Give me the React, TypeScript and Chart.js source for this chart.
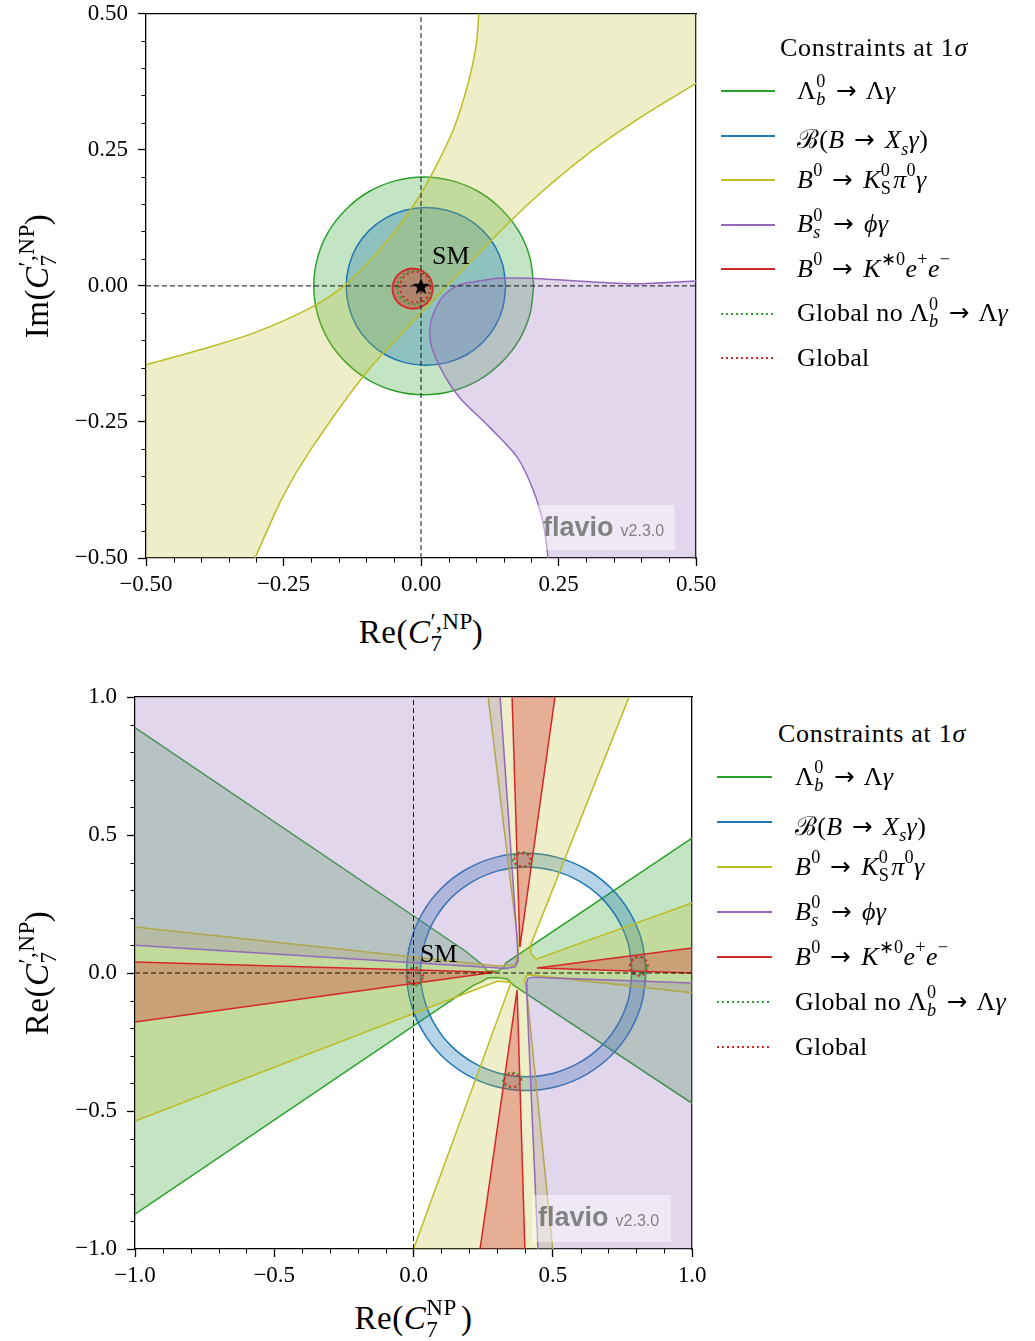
import React, { useEffect, useRef } from 'react';
import { Chart, registerables } from 'chart.js';

Chart.register(...registerables);

type P = [number, number];

// ---------------- ticks ----------------
const TOP_TICKS = [-0.5, -0.25, 0, 0.25, 0.5];
const TOP_TICK_LABELS = ['\u22120.50', '\u22120.25', '0.00', '0.25', '0.50'];
const TOP_MINOR_TICKS = [-0.45, -0.4, -0.35, -0.3, -0.2, -0.15, -0.1, -0.05, 0.05, 0.1, 0.15, 0.2, 0.3, 0.35, 0.4, 0.45];
const BOT_TICKS = [-1, -0.5, 0, 0.5, 1];
const BOT_TICK_LABELS = ['\u22121.0', '\u22120.5', '0.0', '0.5', '1.0'];
const BOT_MINOR_TICKS = [-0.9, -0.8, -0.7, -0.6, -0.4, -0.3, -0.2, -0.1, 0.1, 0.2, 0.3, 0.4, 0.6, 0.7, 0.8, 0.9];

// ---------------- top panel: Re(C7') vs Im(C7') ----------------
const TOP_LAMBDA_B: P[] = [
  [0.205, 0], [0.198, 0.052], [0.178, 0.1], [0.146, 0.141], [0.105, 0.173], [0.057, 0.193],
  [0.005, 0.2], [-0.047, 0.193], [-0.095, 0.173], [-0.136, 0.141], [-0.168, 0.1], [-0.188, 0.052],
  [-0.195, 0], [-0.188, -0.052], [-0.168, -0.1], [-0.136, -0.141], [-0.095, -0.173], [-0.047, -0.193],
  [0.005, -0.2], [0.057, -0.193], [0.105, -0.173], [0.146, -0.141], [0.178, -0.1], [0.198, -0.052], [0.205, 0],
];
const TOP_XS_GAMMA: P[] = [
  [0.154, -0.001], [0.149, 0.037], [0.135, 0.072], [0.112, 0.102], [0.082, 0.125], [0.047, 0.139],
  [0.009, 0.144], [-0.029, 0.139], [-0.064, 0.125], [-0.094, 0.102], [-0.117, 0.072], [-0.131, 0.037],
  [-0.136, -0.001], [-0.131, -0.039], [-0.117, -0.074], [-0.094, -0.104], [-0.064, -0.127], [-0.029, -0.141],
  [0.009, -0.146], [0.047, -0.141], [0.082, -0.127], [0.112, -0.104], [0.135, -0.074], [0.149, -0.039], [0.154, -0.001],
];
const TOP_KSPI_EDGE_A: P[] = [
  [-0.56, -0.163], [-0.5, -0.145], [-0.4, -0.117], [-0.3, -0.085], [-0.2, -0.04], [-0.14, 0.0],
  [-0.09, 0.05], [-0.04, 0.11], [0.0, 0.17], [0.03, 0.225], [0.06, 0.29], [0.085, 0.37], [0.1, 0.44],
  [0.105, 0.5], [0.107, 0.56],
];
const TOP_KSPI_EDGE_B: P[] = [
  [0.56, 0.56], [0.56, 0.41], [0.5, 0.372], [0.4, 0.31], [0.3, 0.24], [0.2, 0.155], [0.1, 0.055],
  [0.0, -0.05], [-0.1, -0.16], [-0.2, -0.3], [-0.25, -0.385], [-0.302, -0.5], [-0.33, -0.56], [-0.56, -0.56],
];
const TOP_PHI_GAMMA: P[] = [
  [0.56, 0.009], [0.5, 0.009], [0.4, 0.004], [0.3, 0.008], [0.2, 0.014], [0.14, 0.014], [0.095, 0.007],
  [0.07, 0.002], [0.045, -0.014], [0.03, -0.035], [0.018, -0.065], [0.016, -0.09], [0.02, -0.115],
  [0.04, -0.16], [0.07, -0.205], [0.125, -0.26], [0.175, -0.315], [0.204, -0.375], [0.222, -0.436],
  [0.231, -0.5], [0.234, -0.56], [0.56, -0.56],
];
const TOP_KEE: P[] = [
  [0.022, -0.005], [0.017, 0.0135], [0.0035, 0.027], [-0.015, 0.032], [-0.0335, 0.027], [-0.047, 0.0135],
  [-0.052, -0.005], [-0.047, -0.0235], [-0.0335, -0.037], [-0.015, -0.042], [0.0035, -0.037], [0.017, -0.0235], [0.022, -0.005],
];
const TOP_GLOBAL_NO_LB: P[] = [
  [0.019, -0.003], [0.01, 0.019], [-0.012, 0.028], [-0.034, 0.019], [-0.043, -0.003], [-0.034, -0.025],
  [-0.012, -0.034], [0.01, -0.025], [0.019, -0.003],
];
const TOP_GLOBAL: P[] = [
  [0.018, -0.002], [0.01, 0.018], [-0.01, 0.026], [-0.03, 0.018], [-0.038, -0.002], [-0.03, -0.022],
  [-0.01, -0.03], [0.01, -0.022], [0.018, -0.002],
];
const TOP_ZERO_H: P[] = [[-0.5, 0], [0.5, 0]];
const TOP_ZERO_V: P[] = [[0, -0.5], [0, 0.5]];
const TOP_SM_POINT: P[] = [[0, 0]];
const TOP_SM_LABEL: P = [0.02, 0.04];

// ---------------- bottom panel: Re(C7) vs Re(C7') ----------------
const BOT_LAMBDA_B: P[] = [
  [-1.1, 0.957], [-1, 0.889], [0.19, 0.077], [0.225, 0.048], [0.25, 0.028], [0.264, 0.008], [0.3, 0.006],
  [0.325, 0.02], [0.33, 0.035], [1, 0.489], [1.1, 0.557], [1.1, -0.539], [1, -0.472], [0.36, -0.045],
  [0.337, -0.022], [0.3, -0.016], [0.268, -0.018], [0.245, -0.031], [0.215, -0.045], [-1, -0.874], [-1.1, -0.942],
];
const BOT_XS_OUTER: P[] = [
  [0.835, 0.004], [0.82, 0.115], [0.777, 0.219], [0.709, 0.308], [0.62, 0.376], [0.516, 0.419],
  [0.405, 0.434], [0.294, 0.419], [0.19, 0.376], [0.101, 0.308], [0.033, 0.219], [-0.01, 0.115],
  [-0.025, 0.004], [-0.01, -0.107], [0.033, -0.211], [0.101, -0.3], [0.19, -0.368], [0.294, -0.411],
  [0.405, -0.426], [0.516, -0.411], [0.62, -0.368], [0.709, -0.3], [0.777, -0.211], [0.82, -0.107], [0.835, 0.004],
];
const BOT_XS_INNER: P[] = [
  [0.785, 0.004], [0.772, 0.102], [0.734, 0.194], [0.674, 0.273], [0.595, 0.333], [0.503, 0.371],
  [0.405, 0.384], [0.307, 0.371], [0.215, 0.333], [0.136, 0.273], [0.076, 0.194], [0.038, 0.102],
  [0.025, 0.004], [0.038, -0.094], [0.076, -0.186], [0.136, -0.265], [0.215, -0.325], [0.307, -0.363],
  [0.405, -0.376], [0.503, -0.363], [0.595, -0.325], [0.674, -0.265], [0.734, -0.186], [0.772, -0.094], [0.785, 0.004],
];
const BOT_KSPI: P[] = [
  [-1.1, 0.178], [-1, 0.167], [0.3, 0.025], [0.365, 0.03], [0.376, 0.07], [0.375, 0.109], [0.268, 1.0], [0.256, 1.1],
  [0.812, 1.1], [0.774, 1.0], [0.42, 0.1], [0.422, 0.07], [0.44, 0.05], [1, 0.254], [1.1, 0.29],
  [1.1, -0.083], [1, -0.072], [0.41, -0.006], [0.398, -0.025], [0.405, -0.05], [0.5, -1.0], [0.511, -1.1],
  [-0.036, -1.1], [0.0, -1.0], [0.35, -0.035], [0.33, -0.032], [0.3, -0.03], [-1, -0.536], [-1.1, -0.575],
];
const BOT_PHI_UPPER: P[] = [
  [-1.1, 1.1], [0.305, 1.1], [0.311, 1.0], [0.372, 0.12], [0.376, 0.045], [0.365, 0.022], [0.33, 0.016],
  [-1, 0.101], [-1.1, 0.108],
];
const BOT_PHI_LOWER: P[] = [
  [1.1, -0.04], [1, -0.036], [0.43, -0.015], [0.41, -0.02], [0.405, -0.04], [0.407, -0.08], [0.447, -1.0],
  [0.456, -1.1], [1.1, -1.1],
];
const BOT_KEE_LEFT: P[] = [[-1.1, 0.042], [-1, 0.04], [0.29, 0.003], [-1, -0.178], [-1.1, -0.192]];
const BOT_KEE_UP: P[] = [[0.351, 1.1], [0.354, 1.0], [0.382, 0.094], [0.508, 1.0], [0.522, 1.1]];
const BOT_KEE_RIGHT: P[] = [[1.1, 0.104], [1, 0.091], [0.443, 0.018], [1, 0.0], [1.1, -0.003]];
const BOT_KEE_DOWN: P[] = [[0.225, -1.1], [0.239, -1.0], [0.372, -0.062], [0.4, -1.0], [0.403, -1.1]];

const BOT_GLOBAL_NO_LB_SM: P[] = [[0.034, -0.013], [0.025, 0.01], [0.004, 0.02], [-0.017, 0.01], [-0.026, -0.013], [-0.017, -0.036], [0.004, -0.046], [0.025, -0.036], [0.034, -0.013]];
const BOT_GLOBAL_NO_LB_UP: P[] = [[0.425, 0.411], [0.415, 0.43], [0.391, 0.438], [0.367, 0.43], [0.357, 0.411], [0.367, 0.392], [0.391, 0.384], [0.415, 0.392], [0.425, 0.411]];
const BOT_GLOBAL_NO_LB_RIGHT: P[] = [[0.839, 0.025], [0.83, 0.048], [0.808, 0.058], [0.786, 0.048], [0.777, 0.025], [0.786, 0.002], [0.808, -0.008], [0.83, 0.002], [0.839, 0.025]];
const BOT_GLOBAL_NO_LB_DOWN: P[] = [[0.389, -0.388], [0.379, -0.369], [0.355, -0.361], [0.331, -0.369], [0.321, -0.388], [0.331, -0.407], [0.355, -0.415], [0.379, -0.407], [0.389, -0.388]];
const BOT_GLOBAL_SM: P[] = [[0.034, -0.012], [0.026, 0.01], [0.006, 0.019], [-0.014, 0.01], [-0.022, -0.012], [-0.014, -0.034], [0.006, -0.043], [0.026, -0.034], [0.034, -0.012]];
const BOT_GLOBAL_UP: P[] = [[0.422, 0.41], [0.413, 0.427], [0.392, 0.434], [0.371, 0.427], [0.362, 0.41], [0.371, 0.393], [0.392, 0.386], [0.413, 0.393], [0.422, 0.41]];
const BOT_GLOBAL_RIGHT: P[] = [[0.843, 0.024], [0.833, 0.048], [0.81, 0.058], [0.787, 0.048], [0.777, 0.024], [0.787, 0.0], [0.81, -0.01], [0.833, 0.0], [0.843, 0.024]];
const BOT_GLOBAL_DOWN: P[] = [[0.386, -0.389], [0.377, -0.372], [0.356, -0.365], [0.335, -0.372], [0.326, -0.389], [0.335, -0.406], [0.356, -0.413], [0.377, -0.406], [0.386, -0.389]];
const BOT_ZERO_H: P[] = [[-1, 0], [1, 0]];
const BOT_ZERO_V: P[] = [[0, -1], [0, 1]];
const BOT_SM_LABEL: P = [0.023, 0.04];

// ---------------- styles ----------------
const GREEN = '#2ca02c';
const BLUE = '#1f77b4';
const OLIVE = '#bcbd22';
const PURPLE = '#9467bd';
const RED = '#d62728';
const SERIF = "'Liberation Serif', 'Times New Roman', serif";
const SANS = "'Liberation Sans', Arial, sans-serif";

const hexA = (hex: string, a: number) => {
  const n = parseInt(hex.slice(1), 16);
  return `rgba(${(n >> 16) & 255},${(n >> 8) & 255},${n & 255},${a})`;
};
const xy = (a: P[]) => a.map(([x, y]) => ({ x, y }));

function region(data: P[], color: string, a: number, order: number, tension: number, borderWidth = 1.5): any {
  return {
    data: xy(data), borderColor: borderWidth ? color : 'transparent', backgroundColor: hexA(color, a),
    borderWidth, fill: 'shape', tension, order, pointRadius: 0, pointHoverRadius: 0,
  };
}
function outline(data: P[], color: string, order: number, tension: number, dash: number[] = [], width = 1.5): any {
  return {
    data: xy(data), borderColor: color, backgroundColor: 'transparent', borderWidth: width, fill: false,
    tension, order, pointRadius: 0, pointHoverRadius: 0, borderDash: dash,
  };
}

const minorTicksPlugin = {
  id: 'minorTicks',
  afterDraw(chart: any, _a: any, opts: any) {
    const { ctx, chartArea } = chart;
    const xs = chart.scales.x;
    const ys = chart.scales.y;
    ctx.save();
    ctx.strokeStyle = '#000';
    ctx.lineWidth = 1;
    ctx.beginPath();
    for (const v of opts.values || []) {
      const px = Math.round(xs.getPixelForValue(v)) + 0.5;
      ctx.moveTo(px, chartArea.bottom);
      ctx.lineTo(px, chartArea.bottom + opts.len);
      const py = Math.round(ys.getPixelForValue(v)) + 0.5;
      ctx.moveTo(chartArea.left, py);
      ctx.lineTo(chartArea.left - opts.len, py);
    }
    ctx.stroke();
    ctx.restore();
  },
};

const smLabelPlugin = {
  id: 'smLabel',
  afterDatasetsDraw(chart: any, _a: any, opts: any) {
    if (!opts || !opts.text) return;
    const { ctx } = chart;
    ctx.save();
    ctx.font = `26px ${SERIF}`;
    ctx.fillStyle = '#000';
    ctx.textAlign = 'left';
    ctx.textBaseline = 'alphabetic';
    ctx.fillText(opts.text, chart.scales.x.getPixelForValue(opts.x), chart.scales.y.getPixelForValue(opts.y));
    ctx.restore();
  },
};

function scalesFor(ticks: number[], labels: string[], min: number, max: number, yWidth: number, xHeight: number) {
  const font = { family: SERIF, size: 23 };
  const grid = { display: true, drawOnChartArea: false, drawTicks: true, tickLength: 8, tickWidth: 1.3, tickColor: '#000' };
  const border = { display: true, color: '#000', width: 1.3 };
  return {
    x: {
      type: 'linear', position: 'bottom', min, max,
      afterBuildTicks: (s: any) => { s.ticks = ticks.map((v) => ({ value: v })); },
      afterFit: (s: any) => { s.height = xHeight; },
      ticks: { font, color: '#000', padding: 5, maxRotation: 0, minRotation: 0, autoSkip: false, callback: (_v: any, i: number) => labels[i] },
      grid, border,
    },
    y: {
      type: 'linear', position: 'left', min, max,
      afterBuildTicks: (s: any) => { s.ticks = ticks.map((v) => ({ value: v })); },
      afterFit: (s: any) => { s.width = yWidth; },
      ticks: { font, color: '#000', padding: 10, autoSkip: false, callback: (_v: any, i: number) => labels[i] },
      grid, border,
    },
    x2: {
      type: 'linear', position: 'top', min, max,
      afterFit: (s: any) => { s.height = 0; },
      ticks: { display: false },
      grid: { display: true, drawOnChartArea: false, drawTicks: false },
      border,
    },
    y2: {
      type: 'linear', position: 'right', min, max,
      afterFit: (s: any) => { s.width = 0; },
      ticks: { display: false },
      grid: { display: true, drawOnChartArea: false, drawTicks: false },
      border,
    },
  };
}

function makeChart(canvas: HTMLCanvasElement, datasets: any[], o: any) {
  return new Chart(canvas as any, {
    type: 'line',
    data: { datasets },
    options: {
      responsive: false,
      animation: false,
      devicePixelRatio: 1,
      events: [],
      layout: { padding: o.padding },
      elements: { line: { capBezierPoints: false }, point: { radius: 0 } },
      plugins: {
        legend: { display: false },
        tooltip: { enabled: false },
        minorTicks: { values: o.minor, len: 4.5 },
        smLabel: { x: o.sm[0], y: o.sm[1], text: 'SM' },
      } as any,
      scales: scalesFor(o.ticks, o.labels, o.min, o.max, o.yWidth, o.xHeight) as any,
    },
    plugins: [minorTicksPlugin, smLabelPlugin],
  } as any);
}

function makeStar(size: number) {
  const c = document.createElement('canvas');
  c.width = size;
  c.height = size;
  const g = c.getContext('2d')!;
  g.fillStyle = '#000';
  g.beginPath();
  for (let i = 0; i < 10; i++) {
    const r = i % 2 === 0 ? size / 2 : size / 4.8;
    const a = -Math.PI / 2 + (i * Math.PI) / 5;
    const x = size / 2 + r * Math.cos(a);
    const y = size / 2 + r * Math.sin(a) + size * 0.05;
    if (i === 0) g.moveTo(x, y);
    else g.lineTo(x, y);
  }
  g.closePath();
  g.fill();
  return c;
}

// ---------------- math text helpers ----------------
function Sup({ children }: { children: React.ReactNode }) {
  return <span style={{ fontSize: '0.7em', position: 'relative', top: '-0.62em' }}>{children}</span>;
}
function Sub({ children }: { children: React.ReactNode }) {
  return <span style={{ fontSize: '0.7em', position: 'relative', top: '0.36em' }}>{children}</span>;
}
function SS({ sup, sub, w }: { sup: React.ReactNode; sub: React.ReactNode; w: string }) {
  return (
    <span style={{ position: 'relative', display: 'inline-block', width: w, height: 0 }}>
      <span style={{ position: 'absolute', left: 0, bottom: '0.44em', fontSize: '0.7em', lineHeight: 1, whiteSpace: 'nowrap' }}>{sup}</span>
      <span style={{ position: 'absolute', left: 0, bottom: '-0.52em', fontSize: '0.7em', lineHeight: 1, whiteSpace: 'nowrap' }}>{sub}</span>
    </span>
  );
}
function Arrow() {
  return <span style={{ fontFamily: "'DejaVu Sans', sans-serif", fontSize: '0.95em', margin: '0 0.12em' }}>{'\u2192'}</span>;
}

const LEGEND_COLORS = [GREEN, BLUE, OLIVE, PURPLE, RED, GREEN, RED];
const LEGEND_DOTTED = [false, false, false, false, false, true, true];

function legendLabels(): React.ReactNode[] {
  const lb = <>{'\u039b'}<SS sup="0" sub={<i>b</i>} w="0.4em" /></>;
  return [
    <>{lb} <Arrow /> {'\u039b'}<i>{'\u03b3'}</i></>,
    <>{'\u212c'}(<i>B</i> <Arrow /> <i>X</i><Sub><i>s</i></Sub><i>{'\u03b3'}</i>)</>,
    <><i>B</i><Sup>0</Sup> <Arrow /> <i>K</i><SS sup="0" sub="S" w="0.48em" /><i>{'\u03c0'}</i><Sup>0</Sup><i>{'\u03b3'}</i></>,
    <><i>B</i><SS sup="0" sub={<i>s</i>} w="0.4em" /> <Arrow /> <i>{'\u03d5\u03b3'}</i></>,
    <><i>B</i><Sup>0</Sup> <Arrow /> <i>K</i><Sup>{'\u22170'}</Sup><i>e</i><Sup>+</Sup><i>e</i><Sup>{'\u2212'}</Sup></>,
    <>Global no {lb} <Arrow /> {'\u039b'}<i>{'\u03b3'}</i></>,
    <>Global</>,
  ];
}

function Legend({ lineLeft, lineW, textLeft, firstY, step, titleX, titleBase }: any) {
  const labels = legendLabels();
  return (
    <>
      <div style={{ position: 'absolute', left: titleX - 150, width: 300, top: titleBase - 24.5, height: 31, lineHeight: '31px', textAlign: 'center', font: `26px ${SERIF}`, letterSpacing: '0.7px', whiteSpace: 'nowrap' }}>
        Constraints at 1<i>{'\u03c3'}</i>
      </div>
      {labels.map((lab, i) => {
        const y = firstY + i * step;
        const c = LEGEND_COLORS[i];
        const bg = LEGEND_DOTTED[i] ? `repeating-linear-gradient(to right, ${c} 0px, ${c} 2px, transparent 2px, transparent 5px)` : c;
        return (
          <React.Fragment key={i}>
            <div style={{ position: 'absolute', left: lineLeft, top: y - 1, width: lineW, height: 2, background: bg }} />
            <div style={{ position: 'absolute', left: textLeft, top: y - 15.5, height: 31, lineHeight: '31px', font: `26px ${SERIF}`, letterSpacing: '0.3px', whiteSpace: 'nowrap' }}>{lab}</div>
          </React.Fragment>
        );
      })}
    </>
  );
}

function Watermark({ left, top, w, h }: any) {
  return (
    <>
      <div style={{ position: 'absolute', left, top, width: w, height: h, background: 'rgba(255,255,255,0.45)' }} />
      <div style={{ position: 'absolute', left: left + 6, top: top + 7, height: 30, lineHeight: '30px', whiteSpace: 'nowrap', color: 'rgba(110,110,110,0.85)' }}>
        <span style={{ font: `bold 27px ${SANS}` }}>flavio</span>
        <span style={{ font: `16px ${SANS}`, marginLeft: 7 }}>v2.3.0</span>
      </div>
    </>
  );
}

export default function App() {
  const topRef = useRef<HTMLCanvasElement>(null);
  const botRef = useRef<HTMLCanvasElement>(null);

  useEffect(() => {
    const star = makeStar(18);
    const dot = [2, 3.2];
    const dash = [5, 3];

    const topSets = [
      region(TOP_LAMBDA_B, GREEN, 0.28, 9, 0.33),
      region(TOP_XS_GAMMA, BLUE, 0.32, 8, 0.33),
      region([...TOP_KSPI_EDGE_A, ...TOP_KSPI_EDGE_B], OLIVE, 0.25, 7, 0.3),
      region(TOP_PHI_GAMMA, PURPLE, 0.27, 6, 0.3),
      region(TOP_KEE, RED, 0.38, 5, 0.35, 1.8),
      outline(TOP_GLOBAL_NO_LB, GREEN, 4, 0.37, dot, 2),
      outline(TOP_GLOBAL, RED, 3, 0.37, dot, 2),
      outline(TOP_ZERO_H, '#111', 2, 0, dash, 1),
      outline(TOP_ZERO_V, '#111', 2, 0, dash, 1),
      { data: xy(TOP_SM_POINT), showLine: false, pointStyle: star, pointRadius: 8, borderColor: '#000', backgroundColor: '#000', order: 0 },
    ];

    const botSets = [
      region(BOT_LAMBDA_B, GREEN, 0.28, 20, 0),
      region([...BOT_XS_OUTER, ...[...BOT_XS_INNER].reverse()], BLUE, 0.32, 19, 0.33, 0),
      outline(BOT_XS_OUTER, BLUE, 18, 0.33),
      outline(BOT_XS_INNER, BLUE, 18, 0.33),
      region(BOT_KSPI, OLIVE, 0.25, 17, 0),
      region(BOT_PHI_UPPER, PURPLE, 0.27, 16, 0),
      region(BOT_PHI_LOWER, PURPLE, 0.27, 16, 0),
      region(BOT_KEE_LEFT, RED, 0.32, 15, 0),
      region(BOT_KEE_UP, RED, 0.32, 15, 0),
      region(BOT_KEE_RIGHT, RED, 0.32, 15, 0),
      region(BOT_KEE_DOWN, RED, 0.32, 15, 0),
      ...[BOT_GLOBAL_NO_LB_SM, BOT_GLOBAL_NO_LB_UP, BOT_GLOBAL_NO_LB_RIGHT, BOT_GLOBAL_NO_LB_DOWN].map((d) => outline(d, GREEN, 4, 0.37, dot, 2)),
      ...[BOT_GLOBAL_SM, BOT_GLOBAL_UP, BOT_GLOBAL_RIGHT, BOT_GLOBAL_DOWN].map((d) => outline(d, RED, 3, 0.37, dot, 2)),
      outline(BOT_ZERO_H, '#111', 2, 0, dash, 1),
      outline(BOT_ZERO_V, '#111', 2, 0, dash, 1),
    ];

    const c1 = makeChart(topRef.current!, topSets, {
      padding: { left: 0, top: 22, right: 34, bottom: 0 },
      ticks: TOP_TICKS, labels: TOP_TICK_LABELS, minor: TOP_MINOR_TICKS, min: -0.5, max: 0.5,
      yWidth: 146, xHeight: 47, sm: TOP_SM_LABEL,
    });
    const c2 = makeChart(botRef.current!, botSets, {
      padding: { left: 0, top: 37, right: 28, bottom: 0 },
      ticks: BOT_TICKS, labels: BOT_TICK_LABELS, minor: BOT_MINOR_TICKS, min: -1, max: 1,
      yWidth: 135, xHeight: 51, sm: BOT_SM_LABEL,
    });
    return () => {
      c1.destroy();
      c2.destroy();
    };
  }, []);

  const titleFont = `33px ${SERIF}`;
  const tBox = { position: 'absolute' as const, width: 320, height: 34, lineHeight: '34px', textAlign: 'center' as const, font: titleFont, whiteSpace: 'nowrap' as const, letterSpacing: '0.5px' };
  return (
    <div style={{ position: 'absolute', left: 0, top: 0, width: 1035, height: 1341, overflow: 'hidden', background: '#fff' }}>
      <canvas ref={topRef} width={730} height={615} style={{ position: 'absolute', left: 0, top: -10, width: 730, height: 615 }} />
      <canvas ref={botRef} width={720} height={640} style={{ position: 'absolute', left: 0, top: 660, width: 720, height: 640 }} />

      {/* axis titles */}
      <div style={{ ...tBox, left: 421 - 160, top: 614 }}>
        Re(<i>C</i><SS sup={'\u2032,NP'} sub="7" w="1.25em" />)
      </div>
      <div style={{ ...tBox, left: 36 - 160, top: 276 - 17, transform: 'rotate(-90deg)' }}>
        Im(<i>C</i><SS sup={'\u2032,NP'} sub="7" w="1.25em" />)
      </div>
      <div style={{ ...tBox, left: 413.5 - 160, top: 1300 }}>
        Re(<i>C</i><SS sup="NP" sub="7" w="1.05em" />)
      </div>
      <div style={{ ...tBox, left: 36 - 160, top: 973 - 17, transform: 'rotate(-90deg)' }}>
        Re(<i>C</i><SS sup={'\u2032,NP'} sub="7" w="1.25em" />)
      </div>

      <Watermark left={537} top={505} w={138} h={45} />
      <Watermark left={532} top={1195} w={139} h={47} />

      <Legend lineLeft={721} lineW={54} textLeft={797} firstY={91} step={44.5} titleX={874} titleBase={57} />
      <Legend lineLeft={717} lineW={55} textLeft={795} firstY={777} step={45} titleX={872} titleBase={743} />
    </div>
  );
}
